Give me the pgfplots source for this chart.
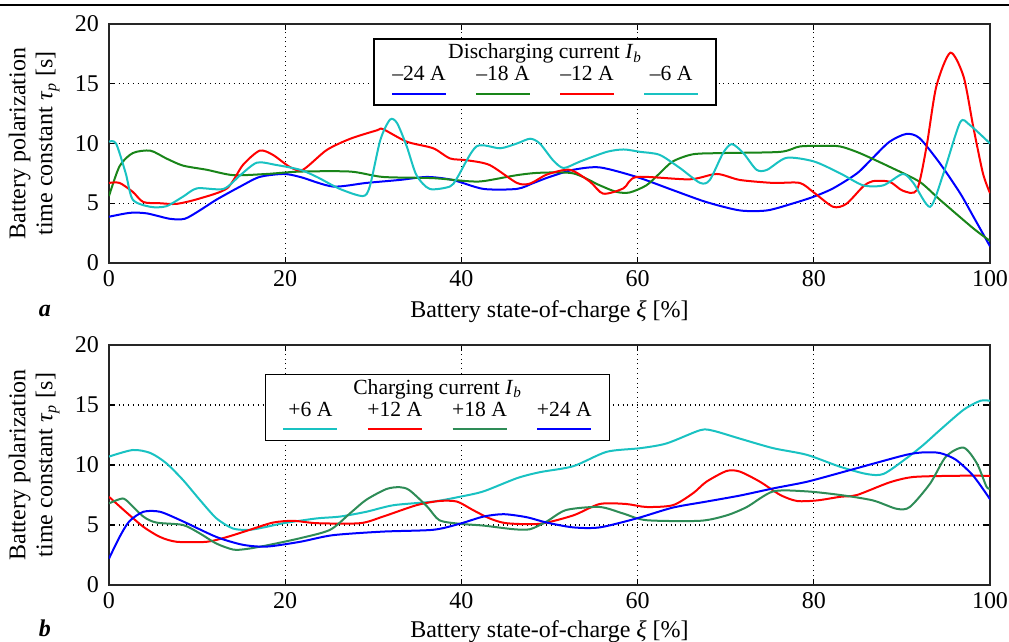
\documentclass[border=0pt]{standalone}
\usepackage{fontspec}
\setmainfont{Liberation Serif}
\usepackage{pgfplots}
\pgfplotsset{compat=1.18}
\definecolor{cB}{rgb}{0,0,1}
\definecolor{cG}{rgb}{0.10,0.52,0.10}
\definecolor{cG2}{rgb}{0.18,0.55,0.34}
\definecolor{cR}{rgb}{1,0,0}
\definecolor{cC}{rgb}{0.10,0.76,0.76}
\newcommand{\lgline}[1]{\textcolor{#1}{\rule[0pt]{27pt}{1.1pt}}}
\pgfplotsset{
  myaxis/.style={
    scale only axis, width=440.5pt, height=119.5pt, anchor=south west,
    xmin=0, xmax=100, ymin=0, ymax=20,
    xtick={0,20,40,60,80,100}, ytick={0,5,10,15,20},
    xticklabel={\hbox{\rmfamily\fontsize{12}{14}\selectfont\pgfmathprintnumber[assume math mode=true]{\tick}}},
    yticklabel={\hbox{\rmfamily\fontsize{12}{14}\selectfont\pgfmathprintnumber[assume math mode=true]{\tick}}},
    grid=major, grid style={dotted, black, line width=0.6pt},
    axis line style={line width=0.9pt, black!85},
    major tick length=3pt, tick style={black, line width=0.6pt},
    yticklabel style={xshift=-1.5pt},
    label style={font=\fontsize{12}{13.5}\selectfont},
    xlabel={Battery state-of-charge \textit{ξ} [\%]},
    ylabel={Battery polarization\\time constant \textit{τ}\textsubscript{\textit{p}} [s]},
    ylabel style={align=center, at={(axis description cs:-0.085,0.5)}, anchor=center},
    every axis plot/.append style={line width=1pt, smooth, tension=0.45},
  }
}
\begin{document}
\begin{tikzpicture}
\path[use as bounding box] (0,0) rectangle (504.5pt,321pt);
\draw[line width=1pt] (0,318.5pt) -- (504.5pt,318.5pt);
\begin{axis}[myaxis, at={(54.5pt,189.5pt)},
  xlabel style={at={(axis description cs:0.5,0)}, anchor=base, yshift=-27.5pt}]
\addplot[cB] coordinates {(0,3.87) (2.4,4.2) (4.3,4.15) (6.9,3.7) (8.6,3.7) (10.3,4.4) (12.2,5.3) (14.9,6.4) (17.1,7.2) (19.8,7.45) (21.7,7.2) (25.4,6.4) (29.2,6.7) (33,6.95) (36.1,7.2) (39,6.95) (42.5,6.2) (46.3,6.2) (48.2,6.7) (50,7.2) (52.7,7.8) (55.7,8.0) (59.9,7.2) (64,6.1) (67.8,5.1) (71.6,4.4) (74.7,4.4) (77.7,5.0) (80,5.55) (82.2,6.25) (84.9,7.5) (86.7,8.8) (88.6,10.15) (90.5,10.8) (92,10.45) (94.3,8.35) (96.6,5.85) (98.1,3.9) (100,1.4)};
\addplot[cG] coordinates {(0,5.6) (1.2,8.1) (2.7,9.2) (4.7,9.4) (6.5,8.75) (8.4,8.15) (11.1,7.8) (14.1,7.35) (17.9,7.45) (21.7,7.65) (27.4,7.65) (31.1,7.2) (36.8,7.1) (40.6,6.85) (42.5,6.85) (46.3,7.35) (48.9,7.55) (52.7,7.5) (55.7,6.5) (57.6,5.95) (59.1,5.9) (61,6.5) (62.5,7.5) (64,8.5) (66.3,9.1) (69.7,9.2) (76.2,9.3) (78.4,9.75) (81.1,9.8) (83,9.75) (85.2,9.2) (88.6,8.05) (92,6.8) (94.3,5.3) (98.1,2.9) (100,1.85)};
\addplot[cR] coordinates {(0,6.7) (1.2,6.7) (2.7,5.95) (3.9,5.1) (5.8,5.0) (7.7,4.95) (10.3,5.4) (13.4,6.25) (15.2,8.2) (17.1,9.4) (18.6,9.05) (20.5,8.05) (22,7.8) (24.7,9.45) (27.4,10.4) (30.4,11.1) (31.1,11.2) (33.8,10.15) (36.8,9.6) (38.7,8.75) (40.6,8.6) (43.2,8.2) (46.3,6.7) (47.8,6.65) (49.7,7.4) (52.3,7.8) (54.6,6.8) (56.1,5.8) (58.4,6.25) (59.9,7.2) (65.9,7.0) (69,7.45) (71.6,6.95) (75.4,6.7) (78.4,6.7) (80,5.9) (82.2,4.7) (83.7,4.95) (85.6,6.4) (86.7,6.85) (88.6,6.8) (90.1,6.05) (91.7,6.1) (92.8,9.75) (93.9,14.75) (95.5,17.6) (97,15.6) (98.1,11.4) (99.2,7.5) (100,5.85)};
\addplot[cC] coordinates {(0,10.15) (0.8,10.0) (1.9,7.5) (2.7,5.3) (4.7,4.7) (6.5,4.75) (8.4,5.55) (10,6.25) (13,6.2) (14.9,7.35) (16.8,8.4) (19,8.2) (21.7,7.8) (23.6,7.2) (26.2,6.2) (28.8,5.6) (29.6,6.4) (30.8,10.3) (31.9,12.0) (32.7,11.7) (33.8,9.75) (34.9,7.35) (36.4,6.2) (38.7,6.4) (39.5,7.1) (41.7,9.75) (44.4,9.6) (46.3,10.0) (47.8,10.4) (48.9,10.0) (50.4,8.6) (51.6,7.95) (53.5,8.5) (56.5,9.3) (58.4,9.5) (60.3,9.3) (62.5,9.05) (64.8,7.95) (67.1,6.7) (68.2,6.95) (69.7,9.2) (70.7,9.95) (72,9.2) (73.5,7.8) (74.7,7.8) (76.9,8.8) (80,8.5) (83,7.5) (85.6,6.5) (87.9,6.5) (90.1,7.45) (91.3,6.7) (93.2,4.7) (94.7,7.45) (96.6,11.75) (97.7,11.55) (100,10.0)};
\node[draw=black, line width=0.6pt, fill=white, inner sep=1.5pt, anchor=north, font=\fontsize{10.8}{12}\selectfont]
  at (rel axis cs:0.495,0.94) {\setlength{\tabcolsep}{7.5pt}\begin{tabular}{cccc}
  \multicolumn{4}{c}{Discharging current \textit{I}\textsubscript{\textit{b}}}\\[-1pt]
  --24 A & --18 A & --12 A & --6 A\\[-5pt]
  \lgline{cB} & \lgline{cG} & \lgline{cR} & \lgline{cC}
  \end{tabular}};
\end{axis}
\begin{axis}[myaxis, at={(54.5pt,28.5pt)}, height=120pt,
  xlabel style={at={(axis description cs:0.5,0)}, anchor=base, yshift=-26.5pt}]
\addplot[cC] coordinates {(0,10.7) (2.7,11.25) (4.7,11.0) (6.5,10.15) (8.4,8.75) (10.3,7.1) (12.2,5.55) (14.1,4.7) (16,4.6) (17.9,4.85) (19.8,5.15) (23.6,5.55) (26.2,5.7) (29.2,6.1) (32.3,6.65) (36.8,6.95) (39.8,7.35) (42.5,7.8) (46.3,8.9) (48.9,9.4) (52.7,9.9) (56.5,11.1) (60.3,11.4) (63.3,11.8) (67.1,12.9) (68.6,12.85) (71.6,12.2) (75.4,11.4) (79.2,10.85) (83,9.85) (86,9.25) (87.9,9.25) (90.5,10.55) (92.4,11.65) (94.3,12.9) (97,14.6) (98.9,15.35) (100,15.35)};
\addplot[cR] coordinates {(0,7.35) (1.9,6.1) (3.9,4.85) (5.8,4.0) (7.7,3.6) (11.1,3.6) (13.4,4.0) (16,4.6) (18.6,5.2) (20.9,5.35) (23.6,5.15) (28.5,5.15) (31.1,5.7) (34.9,6.65) (37.5,7.0) (39.5,6.95) (41.3,6.25) (43.2,5.55) (45.1,5.15) (48.9,5.1) (52.7,5.8) (55.7,6.75) (58.7,6.75) (61,6.5) (64,6.65) (66.3,7.65) (67.8,8.6) (70.1,9.5) (71.6,9.45) (73.9,8.6) (76.2,7.5) (78.1,7.0) (80.4,7.05) (83,7.35) (84.9,7.5) (88.6,8.55) (91.3,9.0) (96.1,9.1) (100,9.1)};
\addplot[cG2] coordinates {(0,6.8) (1.2,7.15) (1.9,7.1) (3.9,5.7) (5.4,5.2) (8.4,5.0) (10.3,4.3) (12.2,3.45) (14.1,2.95) (15.6,3.0) (17.9,3.3) (21.7,3.9) (25.1,4.6) (27.4,6.0) (29.2,7.1) (31.5,8.0) (33,8.15) (34.1,7.9) (36.1,6.55) (37.5,5.4) (39.8,5.1) (42.5,4.95) (45.9,4.65) (47.8,4.65) (49.7,5.3) (51.9,6.25) (55.7,6.5) (58.4,5.95) (61,5.4) (67.1,5.35) (70.1,5.8) (72.4,6.5) (75.4,7.8) (79.2,7.8) (83,7.5) (86.7,7.05) (89.4,6.35) (90.9,6.5) (93.2,8.45) (95,10.7) (97,11.45) (98.5,10.15) (99.6,8.2) (100,8.05)};
\addplot[cB] coordinates {(0,2.2) (1.2,4.0) (2.3,5.3) (3.9,6.1) (5.8,6.1) (8.4,5.3) (12.2,4.0) (15.2,3.35) (17.9,3.2) (21.7,3.6) (25.4,4.15) (31.1,4.45) (36.8,4.6) (39.8,5.1) (42.5,5.7) (44.8,5.9) (47.4,5.65) (49.7,5.2) (52.7,4.8) (55.7,4.8) (59.9,5.55) (64,6.45) (67.8,6.95) (71.6,7.45) (75.4,8.05) (79.2,8.6) (83,9.35) (86.7,10.1) (90.5,10.85) (92.4,11.05) (94.3,11.0) (96.1,10.45) (98.1,9.1) (100,7.15)};
\node[draw=black, line width=0.6pt, fill=white, inner sep=1.5pt, anchor=north, font=\fontsize{10.8}{12}\selectfont]
  at (rel axis cs:0.373,0.879) {\setlength{\tabcolsep}{7.5pt}\begin{tabular}{cccc}
  \multicolumn{4}{c}{Charging current \textit{I}\textsubscript{\textit{b}}}\\[-1pt]
  +6 A & +12 A & +18 A & +24 A\\[-5pt]
  \lgline{cC} & \lgline{cR} & \lgline{cG2} & \lgline{cB}
  \end{tabular}};
\end{axis}
\node[font=\fontsize{12}{13}\selectfont\bfseries\itshape] at (22.5pt,165.5pt) {a};
\node[font=\fontsize{12}{13}\selectfont\bfseries\itshape] at (22.5pt,7pt) {b};
\end{tikzpicture}
\end{document}
